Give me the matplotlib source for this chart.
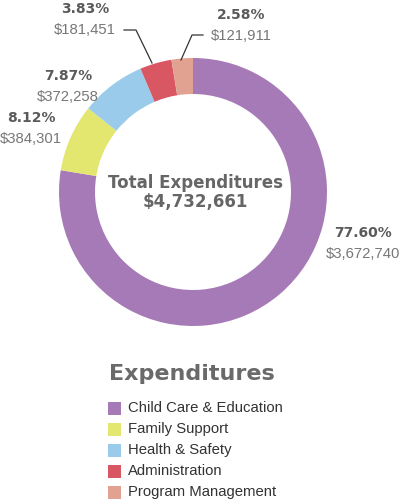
import matplotlib.pyplot as plt
from matplotlib.patches import Rectangle

plt.rcParams['font.family'] = ['Liberation Sans', 'DejaVu Sans']

# expenditure data
categories = ['Child Care & Education', 'Family Support', 'Health & Safety',
              'Administration', 'Program Management']
amounts = [3672740, 384301, 372258, 181451, 121911]
percents = ['77.60%', '8.12%', '7.87%', '3.83%', '2.58%']
amount_labels = ['$3,672,740', '$384,301', '$372,258', '$181,451', '$121,911']
total_label = '$4,732,661'
colors = ['#A57AB7', '#E3E66F', '#9BCBEB', '#D85763', '#E1A291']

W, H = 400, 504
fig = plt.figure(figsize=(W / 100, H / 100), dpi=100)
ax = fig.add_axes([0, 0, 1, 1])

# donut, centre and radius in pixel units (y measured from bottom)
cx, cy, r = 193, H - 192, 134
ax.pie(amounts, colors=colors, startangle=90, counterclock=False,
       center=(cx, cy), radius=r, frame=True,
       wedgeprops=dict(width=36, edgecolor='none'))
ax.set_xlim(0, W)
ax.set_ylim(0, H)
ax.set_aspect('equal')
ax.axis('off')

bold = ['DejaVu Sans']
pct_color = '#5a5a5a'
val_color = '#777777'

# label positions (pixel coords from top) for each slice
label_pos = [(363, 233), (31, 118), (68, 76), (85, 9), (241, 15)]
for (x, y), p, v in zip(label_pos, percents, amount_labels):
    ax.text(x, H - y, p, ha='center', va='center', fontsize=10,
            fontweight='bold', family=bold, color=pct_color)
    ax.text(x, H - y - 21, v, ha='center', va='center', fontsize=10.7,
            color=val_color)

# leader lines for small slices
ax.plot([124, 136, 152], [H - 30, H - 30, H - 63], color='#333333', lw=0.9)
ax.plot([203, 192, 181], [H - 35, H - 35, H - 60], color='#333333', lw=0.9)

# centre text
ax.text(195, H - 183, 'Total Expenditures', ha='center', va='center',
        fontsize=12, fontweight='bold', family=bold, color='#666666')
ax.text(195, H - 202, total_label, ha='center', va='center',
        fontsize=12, fontweight='bold', family=bold, color='#666666')

# legend
ax.text(192, H - 374, 'Expenditures', ha='center', va='center',
        fontsize=16, fontweight='bold', family=bold, color='#6a6a6a')
for i, (c, name) in enumerate(zip(colors, categories)):
    yc = H - (408 + 21 * i)
    ax.add_patch(Rectangle((108, yc - 6.5), 13, 13, facecolor=c, edgecolor='none'))
    ax.text(128, yc, name, ha='left', va='center', fontsize=10.7, color='#333333')

fig.savefig('out.png', dpi=100)
